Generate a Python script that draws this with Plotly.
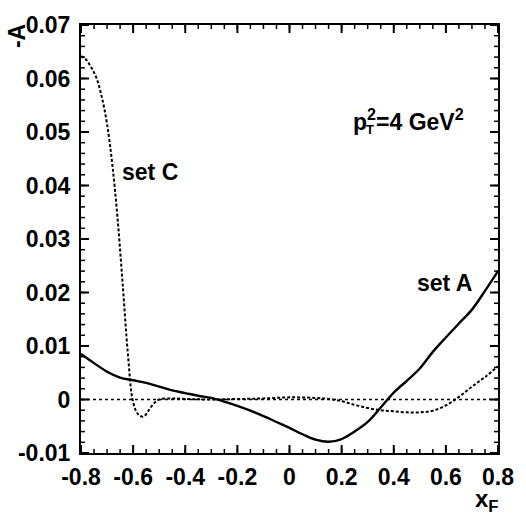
import plotly.graph_objects as go

# Set A (solid)
a_x = [-0.8, -0.75, -0.7, -0.65, -0.6, -0.55, -0.5, -0.45, -0.4, -0.35, -0.3, -0.25,
       -0.2, -0.15, -0.1, -0.05, 0.0, 0.05, 0.1, 0.15, 0.2, 0.25, 0.3, 0.35, 0.4,
       0.45, 0.5, 0.55, 0.6, 0.65, 0.7, 0.75, 0.8]
a_y = [0.0085, 0.0068, 0.0052, 0.0041, 0.0036, 0.0031, 0.0024, 0.0017, 0.0012, 0.0007,
       0.0003, -0.0004, -0.0012, -0.0021, -0.0031, -0.0042, -0.0053, -0.0065, -0.0075,
       -0.0079, -0.0074, -0.0060, -0.0042, -0.0015, 0.0013, 0.0035, 0.0058, 0.0089,
       0.0116, 0.0142, 0.0168, 0.0203, 0.0240]

# Set C (dashed)
c_x = [-0.8, -0.78, -0.76, -0.74, -0.72, -0.7, -0.68, -0.66, -0.64, -0.62, -0.6, -0.58,
       -0.56, -0.54, -0.52, -0.5, -0.45, -0.4, -0.3, -0.2, -0.1, 0.0, 0.1, 0.15, 0.2,
       0.25, 0.3, 0.35, 0.4, 0.45, 0.5, 0.55, 0.6, 0.65, 0.7, 0.75, 0.8]
c_y = [0.0642, 0.0635, 0.0620, 0.0600, 0.0565, 0.0515, 0.0440, 0.0340, 0.0215, 0.0085,
       -0.0005, -0.0028, -0.0032, -0.0020, -0.0007, 0.0000, 0.0002, 0.0001, 0.0000,
       0.0001, 0.0002, 0.0004, 0.0003, 0.0001, -0.0003, -0.0010, -0.0016, -0.0020,
       -0.0022, -0.0024, -0.0024, -0.0021, -0.0011, 0.0005, 0.0024, 0.0042, 0.0062]

# zero reference line
zero_x = [-0.8, 0.8]
zero_y = [0.0, 0.0]

x_tickvals = [-0.8, -0.6, -0.4, -0.2, 0.0, 0.2, 0.4, 0.6, 0.8]
x_ticktext = ["-0.8", "-0.6", "-0.4", "-0.2", "0", "0.2", "0.4", "0.6", "0.8"]
y_tickvals = [-0.01, 0.0, 0.01, 0.02, 0.03, 0.04, 0.05, 0.06, 0.07]
y_ticktext = ["-0.01", "0", "0.01", "0.02", "0.03", "0.04", "0.05", "0.06", "0.07"]

X_RANGE = [-0.8, 0.8]
Y_RANGE = [-0.01, 0.07]
X_MINOR_STEP = 0.05
Y_MINOR_STEP = 0.002

W, H = 526, 516
MARGIN = dict(l=81, r=22, t=15, b=63)
MAJOR_LEN, MINOR_LEN = 8, 4

FONT = "Liberation Sans, Arial, Helvetica, sans-serif"

fig = go.Figure()
fig.add_trace(go.Scatter(x=zero_x, y=zero_y, mode="lines",
                         line=dict(color="black", width=1.5, dash="dot"), showlegend=False))
fig.add_trace(go.Scatter(x=c_x, y=c_y, mode="lines", line_shape="spline",
                         line=dict(color="black", width=2, dash="3px,2px"), showlegend=False))
fig.add_trace(go.Scatter(x=a_x, y=a_y, mode="lines", line_shape="spline",
                         line=dict(color="black", width=2.4), showlegend=False))

# inside tick marks on all four sides, drawn as pixel-sized shapes anchored to axis values
nx = int(round((X_RANGE[1] - X_RANGE[0]) / X_MINOR_STEP))
ny = int(round((Y_RANGE[1] - Y_RANGE[0]) / Y_MINOR_STEP))
x_minor = [X_RANGE[0] + i * X_MINOR_STEP for i in range(nx + 1)]
y_minor = [Y_RANGE[0] + i * Y_MINOR_STEP for i in range(ny + 1)]

shapes = []


def add_ticks(xvals, yvals, length, width):
    for xv in xvals:
        for side, sign in (("bottom", 1), ("top", -1)):
            anchor = Y_RANGE[0] if side == "bottom" else Y_RANGE[1]
            shapes.append(dict(type="line", xref="x", yref="y", xsizemode="scaled",
                               ysizemode="pixel", yanchor=anchor,
                               x0=xv, x1=xv, y0=0, y1=sign * length,
                               line=dict(color="black", width=width)))
    for yv in yvals:
        for side, sign in (("left", 1), ("right", -1)):
            anchor = X_RANGE[0] if side == "left" else X_RANGE[1]
            shapes.append(dict(type="line", xref="x", yref="y", xsizemode="pixel",
                               ysizemode="scaled", xanchor=anchor,
                               x0=0, x1=sign * length, y0=yv, y1=yv,
                               line=dict(color="black", width=width)))


add_ticks(x_minor, y_minor, MINOR_LEN, 1.5)
add_ticks(x_tickvals, y_tickvals, MAJOR_LEN, 2)

TFONT = dict(family=FONT, size=23, color="black", weight="bold")

common = dict(showgrid=False, zeroline=False, showline=True, linecolor="black", linewidth=2,
              mirror=True, ticks="", tickfont=TFONT)
fig.update_xaxes(range=X_RANGE, tickmode="array", tickvals=x_tickvals, ticktext=x_ticktext,
                 ticklabelstandoff=2, **common)
fig.update_yaxes(range=Y_RANGE, tickmode="array", tickvals=y_tickvals, ticktext=y_ticktext,
                 ticklabelstandoff=4, **common)

afont = dict(family=FONT, size=23, color="black", weight="bold")
anns = [
    dict(text="-A", x=-0.155, y=0.975, textangle=-90, font=dict(family=FONT, size=23, color="black", weight="bold")),
    dict(text="x<sub>F</sub>", x=0.974, y=-0.11, font=dict(family=FONT, size=24, color="black", weight="bold")),
    dict(text="p<sup>2</sup>=4 GeV<sup>2</sup>", x=0.785, y=0.779, font=afont),
    dict(text="T", x=0.694, y=0.756, font=dict(family=FONT, size=13, color="black", weight="bold")),
    dict(text="set C", x=0.165, y=0.657, font=afont),
    dict(text="set A", x=0.872, y=0.397, font=afont),
]
for a in anns:
    fig.add_annotation(xref="paper", yref="paper", showarrow=False,
                       xanchor="center", yanchor="middle", **a)

fig.update_layout(
    width=W, height=H,
    margin=MARGIN,
    plot_bgcolor="white", paper_bgcolor="white",
    font=dict(family=FONT, color="black"),
    showlegend=False,
    shapes=shapes,
)

fig.write_html("out.html")
